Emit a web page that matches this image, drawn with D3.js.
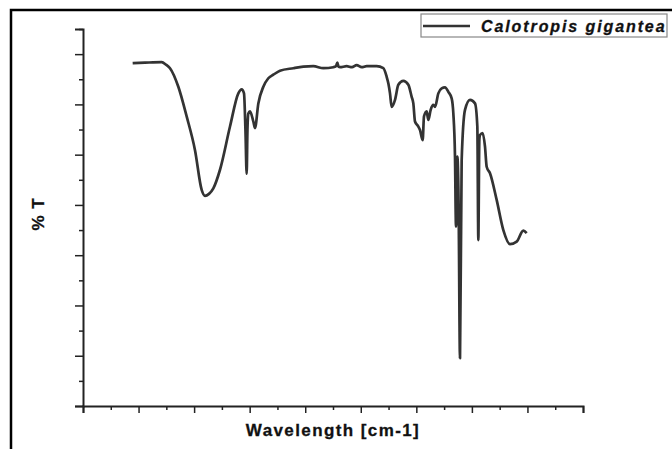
<!DOCTYPE html>
<html>
<head>
<meta charset="utf-8">
<script src="https://cdn.jsdelivr.net/npm/d3@7"></script>
<style>
  body { margin: 0; background: #fff; }
  svg { display: block; font-family: "Liberation Sans", Arial, sans-serif; }
</style>
</head>
<body>
<div id="chart"></div>
<script>
// FTIR spectrum (wavenumber cm-1, %T)
const wavenumber = [4053,3942,3792,3753,3717,3642,3567,3492,3432,3402,3366,3327,3267,3177,3102,3072,3051,3038,3027,3020,
  3012,2997,2967,2952,2922,2877,2832,2787,2727,2607,2517,2427,2337,2247,2223,2211,2200,2187,2127,2079,
  2037,1992,1947,1857,1797,1767,1752,1737,1722,1692,1662,1617,1572,1542,1527,1512,1482,1467,1443,1431,
  1407,1392,1371,1347,1332,1302,1272,1242,1212,1182,1167,1152,1143,1131,1120,1107,1092,1062,1017,972,
  951,942,933,927,903,882,867,837,777,717,657,597,537,507];
const transmittance = [68.2,68.3,68.4,67.9,67.2,63.5,57.6,50.9,43.0,41.8,42.2,43.3,47.0,55.6,62.2,63.0,62.2,54.9,46.2,54.9,
  58.2,58.6,56.6,55.3,60.2,63.5,65.2,65.9,66.7,67.2,67.5,67.6,67.2,67.4,67.6,68.3,67.5,67.4,67.6,67.4,
  67.8,67.4,67.6,67.6,67.2,65.5,64.2,62.2,59.5,60.9,63.9,64.7,63.9,61.5,60.2,56.6,55.6,54.9,52.9,57.6,
  58.6,56.9,58.9,59.9,59.5,62.2,63.2,63.4,62.5,61.2,58.2,49.6,35.7,49.6,41.0,9.5,48.9,58.9,60.9,60.2,
  55.6,33.0,52.9,53.9,54.3,51.6,47.6,46.3,41.0,35.0,32.2,32.7,34.9,34.4];
const seriesName = "Calotropis gigantea";
const xTicks = d3.range(4500, -1, -250);
const yTicks = d3.range(0, 76, 5);

const width = 672, height = 449;
const margin = {left: 83, right: 89, top: 29, bottom: 43};

const svg = d3.select("#chart").append("svg")
  .attr("width", width)
  .attr("height", height);

// outer frame (top + left only visible)
svg.append("path")
  .attr("d", "M11,449 L11,10 L672,10")
  .attr("fill", "none")
  .attr("stroke", "#000")
  .attr("stroke-width", 2.5);

const x = d3.scaleLinear().domain([4500, 0]).range([margin.left, width - margin.right]);
const y = d3.scaleLinear().domain([0, 75]).range([height - margin.bottom, margin.top]);

// x axis
const xAxis = svg.append("g")
  .attr("transform", `translate(0,${y(0)})`)
  .call(d3.axisBottom(x).tickValues(xTicks).tickFormat("").tickSizeOuter(0)
    .tickSize(7));
xAxis.selectAll(".tick line")
  .attr("y2", d => d % 500 === 0 ? 7 : 4);
xAxis.select(".domain").attr("stroke-width", 2);
xAxis.selectAll(".tick line").attr("stroke-width", 1.5).attr("stroke", "#222");
xAxis.select(".domain").attr("stroke", "#222");

// y axis
const yAxis = svg.append("g")
  .attr("transform", `translate(${x(4500)},0)`)
  .call(d3.axisLeft(y).tickValues(yTicks).tickFormat("").tickSizeOuter(0).tickSize(8));
yAxis.selectAll(".tick line")
  .attr("x2", d => d % 10 === 0 ? -8 : -4);
yAxis.select(".domain").attr("stroke-width", 2).attr("stroke", "#222");
yAxis.selectAll(".tick line").attr("stroke-width", 1.5).attr("stroke", "#222");

// spectrum
const data = wavenumber.map((w, i) => ({w, t: transmittance[i]}));
const line = d3.line()
  .x(d => x(d.w))
  .y(d => y(d.t))
  .curve(d3.curveMonotoneX);

svg.append("path")
  .datum(data)
  .attr("fill", "none")
  .attr("stroke", "#333")
  .attr("stroke-width", 2.7)
  .attr("stroke-linejoin", "round")
  .attr("d", line);

// axis titles
svg.append("text")
  .attr("x", (x(4500) + x(0)) / 2)
  .attr("y", 436)
  .attr("text-anchor", "middle")
  .attr("font-weight", "bold")
  .attr("font-size", 17)
  .attr("letter-spacing", 1.4)
  .attr("fill", "#111")
  .attr("stroke", "#111")
  .attr("stroke-width", 0.3)
  .text("Wavelength [cm-1]");

svg.append("text")
  .attr("transform", "translate(44,214) rotate(-90)")
  .attr("text-anchor", "middle")
  .attr("font-weight", "bold")
  .attr("font-size", 17)
  .attr("letter-spacing", 1)
  .attr("fill", "#111")
  .attr("stroke", "#111")
  .attr("stroke-width", 0.3)
  .text("% T");

// legend
const legend = svg.append("g");
legend.append("rect")
  .attr("x", 421).attr("y", 14)
  .attr("width", 246).attr("height", 23)
  .attr("fill", "#fff")
  .attr("stroke", "#888")
  .attr("stroke-width", 1.2);
legend.append("line")
  .attr("x1", 423).attr("x2", 470)
  .attr("y1", 26).attr("y2", 26)
  .attr("stroke", "#333")
  .attr("stroke-width", 2.5);
legend.append("text")
  .attr("x", 481).attr("y", 32)
  .attr("font-weight", "bold")
  .attr("font-style", "italic")
  .attr("font-size", 16)
  .attr("letter-spacing", 1.9)
  .attr("fill", "#111")
  .attr("stroke", "#111")
  .attr("stroke-width", 0.3)
  .text(seriesName);
</script>
</body>
</html>
